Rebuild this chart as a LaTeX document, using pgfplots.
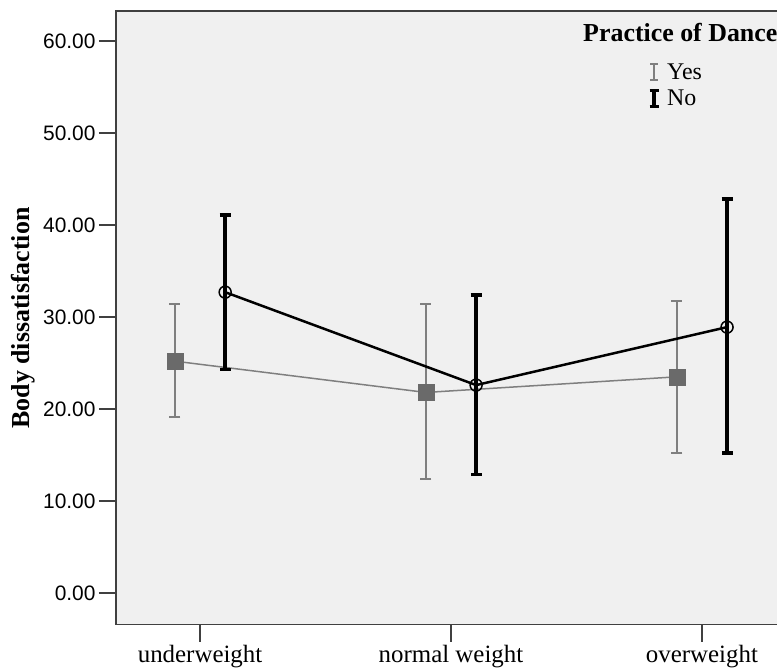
\documentclass[border=0pt]{standalone}
\usepackage{fontspec}
\setmainfont{Liberation Serif}
\newfontfamily\ticksans{Liberation Sans}
\usepackage{pgfplots}
\pgfplotsset{compat=1.18}
\definecolor{bgc}{HTML}{F0F0F0}
\definecolor{axiscol}{HTML}{404040}
\definecolor{yesline}{HTML}{7F7F7F}
\definecolor{yesmark}{HTML}{6A6A6A}
\begin{document}
\begin{tikzpicture}
\useasboundingbox (0,0) rectangle (777bp,671bp);
\begin{axis}[
  at={(116bp,46.5bp)}, anchor=south west,
  scale only axis, width=663bp, height=613.5bp,
  xmin=-0.335, xmax=2.307, ymin=-3.42, ymax=63.26,
  axis background/.style={fill=bgc},
  axis line style={draw=axiscol, line width=1.5bp},
  xtick={0,1,2}, xticklabels={underweight, normal weight, overweight},
  ytick={0,10,20,30,40,50,60},
  xtick pos=bottom, ytick pos=left,
  tick align=outside, major tick length=17bp,
  tick style={draw=axiscol, line width=1.5bp},
  x tick label style={font=\fontsize{25}{28}\selectfont},
  y tick label style={font=\ticksans\fontsize{21}{24}\selectfont,
     /pgf/number format/.cd, fixed, fixed zerofill, precision=2, assume math mode=true},
  ylabel={Body dissatisfaction},
  ylabel style={font=\bfseries\fontsize{26}{29}\selectfont, at={(axis description cs:-0.1403,0.4996)}, anchor=center, rotate=0},
  legend style={draw=none, fill=none, inner sep=0pt, row sep=5bp,
     font=\fontsize{24}{26}\selectfont,
     /tikz/every odd column/.append style={column sep=5bp},
     at={(axis description cs:0.8024,0.918)}, anchor=north west},
  legend cell align=left,
]
\addplot[forget plot, yesline, line width=1.5bp, mark=square*, mark size=8bp,
  mark options={fill=yesmark, draw=yesmark, line width=0.5bp},
  error bars/.cd, y dir=both, y explicit,
  error bar style={line width=2bp, yesline},
  error mark options={rotate=90, mark size=5.5bp, line width=2bp, yesline},
]
coordinates {
  (-0.1,25.2) += (0,6.2) -= (0,6.1)
  (0.9,21.8) += (0,9.6) -= (0,9.4)
  (1.9,23.5) += (0,8.2) -= (0,8.3)
};
\addplot[forget plot, black, line width=2.5bp, mark=o, mark size=6bp,
  mark options={draw=black, fill=none, line width=1.5bp},
  error bars/.cd, y dir=both, y explicit,
  error bar style={line width=3.5bp, black},
  error mark options={rotate=90, mark size=5.5bp, line width=3.5bp, black},
]
coordinates {
  (0.1,32.7) += (0,8.4) -= (0,8.4)
  (1.1,22.6) += (0,9.8) -= (0,9.7)
  (2.1,28.9) += (0,13.9) -= (0,13.7)
};
\addlegendimage{legend image code/.code={
  \draw[yesline, line width=1.5bp] (6bp,-8bp) -- (6bp,8bp);
  \draw[yesline, line width=1.5bp] (2bp,8bp) -- (10bp,8bp);
  \draw[yesline, line width=1.5bp] (2bp,-8bp) -- (10bp,-8bp);}}
\addlegendentry{Yes}
\addlegendimage{legend image code/.code={
  \draw[black, line width=3.5bp] (6bp,-8bp) -- (6bp,8bp);
  \draw[black, line width=3bp] (1.5bp,8bp) -- (10.5bp,8bp);
  \draw[black, line width=3bp] (1.5bp,-8bp) -- (10.5bp,-8bp);}}
\addlegendentry{No}
\node[anchor=base west, font=\bfseries\fontsize{26}{29}\selectfont, inner sep=0pt]
  at (axis description cs:0.7044,0.9495) {Practice of Dance};
\end{axis}
\end{tikzpicture}
\end{document}
